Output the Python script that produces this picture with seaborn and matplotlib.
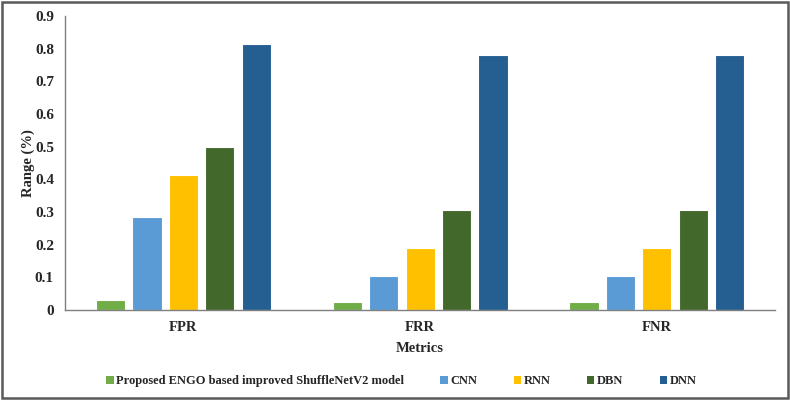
import matplotlib
matplotlib.use("Agg")
import matplotlib.pyplot as plt
import seaborn as sns
import pandas as pd
from matplotlib.patches import Rectangle

metrics = ["FPR", "FRR", "FNR"]
models = ["Proposed ENGO based improved ShuffleNetV2 model", "CNN", "RNN", "DBN", "DNN"]
proposed = [0.031, 0.024, 0.024]
cnn = [0.284, 0.105, 0.105]
rnn = [0.413, 0.191, 0.191]
dbn = [0.500, 0.307, 0.307]
dnn = [0.815, 0.780, 0.780]
colors = ["#70AD47", "#5B9BD5", "#FFC000", "#43682B", "#255E91"]

rows = []
for name, vals in zip(models, [proposed, cnn, rnn, dbn, dnn]):
    for m, v in zip(metrics, vals):
        rows.append({"Metric": m, "Model": name, "Value": v})
df = pd.DataFrame(rows)

sns.set_theme(style="white")
plt.rcParams["font.family"] = ["Liberation Serif", "DejaVu Serif"]
plt.rcParams["font.weight"] = "bold"

fig = plt.figure(figsize=(7.9, 4.0), dpi=100)
ax = fig.add_axes([0.0823, 0.225, 0.899, 0.735])
sns.barplot(data=df, x="Metric", y="Value", hue="Model", hue_order=models,
            palette=colors, width=0.77, gap=0.2, edgecolor="white", linewidth=0.8,
            saturation=1, ax=ax, legend=True)

ax.set_ylim(0, 0.9)
ax.set_yticks([0, 0.1, 0.2, 0.3, 0.4, 0.5, 0.6, 0.7, 0.8, 0.9])
ax.set_yticklabels(["0", "0.1", "0.2", "0.3", "0.4", "0.5", "0.6", "0.7", "0.8", "0.9"])
ax.set_xlim(-0.5, 2.5)
ax.tick_params(axis="y", length=0, labelsize=11, pad=8)
ax.tick_params(axis="x", length=0, labelsize=10.5, pad=8)
for lbl in ax.get_xticklabels() + ax.get_yticklabels():
    lbl.set_fontweight("bold")
ax.set_xlabel("Metrics", fontsize=10.5, fontweight="bold", labelpad=6)
ax.set_ylabel("Range (%)", fontsize=10.5, fontweight="bold", labelpad=0)
for s in ["top", "right"]:
    ax.spines[s].set_visible(False)
for s in ["left", "bottom"]:
    ax.spines[s].set_color("#7F7F7F")
    ax.spines[s].set_linewidth(1.0)

handles, labels = ax.get_legend_handles_labels()
ax.get_legend().remove()
leg = fig.legend(handles, labels, loc="center", bbox_to_anchor=(0.508, 0.047), ncol=5,
                 frameon=False, handlelength=0.6, handleheight=0.6,
                 handletextpad=0.2, columnspacing=2.9,
                 prop={"weight": "bold", "size": 9})
for h in leg.legend_handles:
    h.set_edgecolor("none")

fig.add_artist(Rectangle((0.002, 0.004), 0.995, 0.991, transform=fig.transFigure,
                         fill=False, edgecolor="#595959", linewidth=1.8))

fig.savefig("out.png", dpi=100)
